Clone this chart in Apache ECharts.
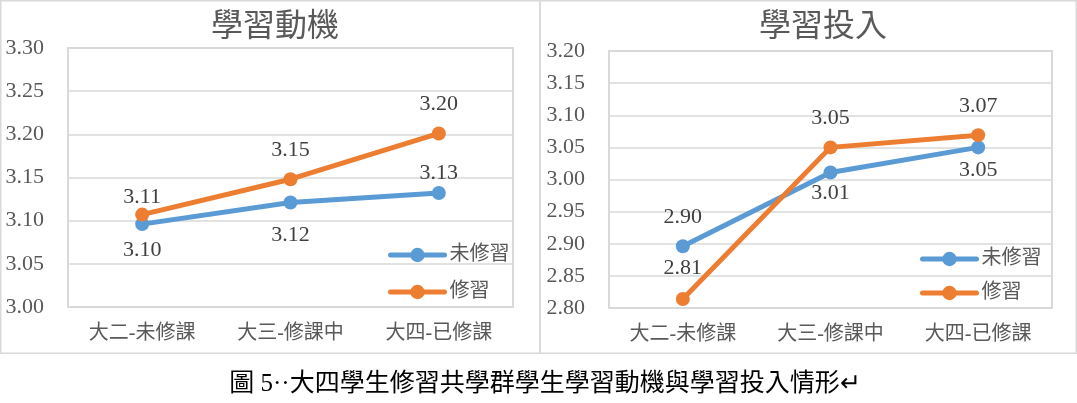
<!DOCTYPE html>
<html>
<head>
<meta charset="utf-8">
<title>學習動機與學習投入</title>
<script src="https://cdn.jsdelivr.net/npm/echarts@6/dist/echarts.min.js"></script>
<style>
    html,body{margin:0;padding:0;background:#fff;}
    #main{width:1077px;height:403px;}
</style>
</head>
<body>
<div id="main"></div>
<script>
// 類別與數值
var categories = ['大二-未修課', '大三-修課中', '大四-已修課'];
var seriesNames = ['未修習', '修習'];

// 學習動機
var motiveNo = [3.096, 3.121, 3.132];
var motiveYes = [3.107, 3.148, 3.201];
var motiveTicks = [3.00, 3.30, 0.05];

// 學習投入
var engageNo = [2.896, 3.011, 3.050];
var engageYes = [2.814, 3.050, 3.069];
var engageTicks = [2.80, 3.20, 0.05];

var caption = '圖 5··大四學生修習共學群學生學習動機與學習投入情形↵';

// 數據標籤的垂直位移(像素,負值在上方)
var motiveNoDy = [26, 33, -20];
var motiveYesDy = [-17, -29, -29];
var engageNoDy = [-29, 21, 23];
var engageYesDy = [-31, -29, -29];

var FONT = "'Liberation Serif', 'Noto Sans CJK TC'";
var BLUE = '#5b9bd5';
var ORANGE = '#ed7d31';
var GRAY = '#d9d9d9';

window.addEventListener('load', function(){
    initChart();
});

function labelData(values, dys){
    var data = [];
    for (let i = 0; i < values.length; i++) {
        data.push({value: values[i], label: {offset: [0, dys[i]]}});
    }
    return data;
}

function makeSeries(name, color, idx, values, dys){
    return {
        name: name,
        type: 'line',
        xAxisIndex: idx,
        yAxisIndex: idx,
        data: labelData(values, dys),
        symbol: 'circle',
        symbolSize: 14,
        lineStyle: {color: color, width: 5},
        itemStyle: {color: color},
        label: {
            show: true,
            position: 'inside',
            color: '#404040',
            fontSize: 22,
            fontFamily: FONT,
            formatter: function(p){ return p.value.toFixed(2); }
        }
    };
}

function makeX(idx){
    return {
        type: 'category',
        gridIndex: idx,
        data: categories,
        axisLine: {show: false},
        axisTick: {show: false},
        axisLabel: {color: '#595959', fontSize: 20, fontFamily: FONT, margin: 17}
    };
}

function makeY(idx, ticks){
    return {
        type: 'value',
        gridIndex: idx,
        min: ticks[0],
        max: ticks[1],
        interval: ticks[2],
        axisLine: {show: false},
        axisTick: {show: false},
        splitLine: {lineStyle: {color: GRAY, width: 1.5}},
        axisLabel: {
            color: '#595959', fontSize: 22, fontFamily: FONT, margin: 24,
            formatter: function(v){ return v.toFixed(2); }
        }
    };
}

function makeLegend(left, top, gap){
    return {
        data: seriesNames,
        orient: 'vertical',
        left: left,
        top: top,
        itemGap: gap,
        itemWidth: 54,
        itemHeight: 18,
        lineStyle: {width: 5, cap: 'round'},
        textStyle: {color: '#595959', fontSize: 20, fontFamily: FONT}
    };
}

function initChart(){
    var myChart = echarts.init(document.getElementById('main'));
    var option = {
        animation: false,
        backgroundColor: '#fff',
        title: [
            {text: '學習動機', left: 270, top: 7, textAlign: 'center',
             textStyle: {color: '#595959', fontSize: 32, fontWeight: 'normal', fontFamily: FONT}},
            {text: '學習投入', left: 818, top: 7, textAlign: 'center',
             textStyle: {color: '#595959', fontSize: 32, fontWeight: 'normal', fontFamily: FONT}},
            {text: caption, left: 540, top: 367, textAlign: 'center',
             textStyle: {color: '#000', fontSize: 25, fontWeight: 'normal', fontFamily: FONT}}
        ],
        legend: [
            makeLegend(383, 240, 17),
            makeLegend(915, 244, 14)
        ],
        grid: [
            {left: 68, right: 564, top: 48, bottom: 96, show: true, borderColor: GRAY, borderWidth: 2},
            {left: 609, right: 25, top: 51, bottom: 95, show: true, borderColor: GRAY, borderWidth: 2}
        ],
        xAxis: [makeX(0), makeX(1)],
        yAxis: [makeY(0, motiveTicks), makeY(1, engageTicks)],
        series: [
            makeSeries(seriesNames[0], BLUE, 0, motiveNo, motiveNoDy),
            makeSeries(seriesNames[1], ORANGE, 0, motiveYes, motiveYesDy),
            makeSeries(seriesNames[0], BLUE, 1, engageNo, engageNoDy),
            makeSeries(seriesNames[1], ORANGE, 1, engageYes, engageYesDy)
        ],
        graphic: [
            {type: 'rect', shape: {x: 0.75, y: 0.75, width: 539.25, height: 352.5},
             style: {fill: 'none', stroke: GRAY, lineWidth: 1.5}, silent: true},
            {type: 'rect', shape: {x: 540, y: 0.75, width: 536.25, height: 352.5},
             style: {fill: 'none', stroke: GRAY, lineWidth: 1.5}, silent: true}
        ]
    };
    myChart.setOption(option);
}
</script>
</body>
</html>
